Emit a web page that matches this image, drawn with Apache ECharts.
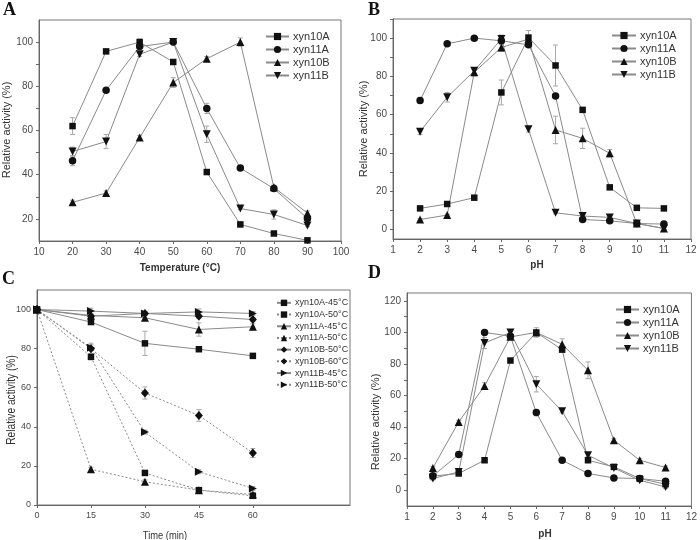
<!DOCTYPE html>
<html><head><meta charset="utf-8">
<script src="https://cdn.jsdelivr.net/npm/echarts@6/dist/echarts.min.js"></script>
<style>html,body{margin:0;padding:0;background:#fff}#c{width:700px;height:540px}</style>
</head><body><div id="c"></div>
<script>
// ---------- Panel A: temperature profile ----------
const tempX = [20, 30, 40, 50, 60, 70, 80, 90];
const A_xyn10A = [62, 95.8, 100, 91, 41.2, 17.5, 13.4, 10.3];
const A_xyn11A = [46.3, 78.2, 98, 100, 70, 43, 33.7, 20.2];
const A_xyn10B = [27.5, 31.7, 56.8, 81.7, 92.5, 100, 34.3, 22.6];
const A_xyn11B = [50.5, 55, 94.5, 100, 58.3, 24.7, 22, 17];
const A_err10A = [3.8, 0.5, 1.5, 0.5, 0.5, 1, 0.5, 0];
const A_err11A = [2.2, 1, 1, 0.5, 2.3, 0.5, 1, 1];
const A_err10B = [1, 1, 1, 2.2, 1, 1.9, 1, 1];
const A_err11B = [2, 3.2, 1, 0.5, 3.7, 0.5, 2.1, 0.5];
const A_xTicks = [10, 20, 30, 40, 50, 60, 70, 80, 90, 100];
const A_yTicks = [20, 40, 60, 80, 100];

// ---------- Panel B: pH profile ----------
const phX = [2, 3, 4, 5, 6, 7, 8, 9, 10, 11];
const B_xyn10A = [11, 13.3, 16.6, 71.6, 100.3, 85.7, 62.5, 22, 11.3, 11];
const B_xyn11A = [67.4, 97, 100, 98.6, 96.5, 69.8, 5.2, 4.5, 3.1, 2.8];
const B_xyn10B = [5.2, 7.5, 82.2, 95.1, 99.5, 52, 47.6, 39.8, 3.1, 0.5];
const B_xyn11B = [51.1, 69.1, 82.9, 99.6, 52.4, 8.7, 7, 6.3, 3.1, 0.5];
const B_err10A = [0.5, 0.5, 0.5, 6.5, 3.7, 10.7, 0.5, 1, 0.5, 0.5];
const B_err11A = [1.5, 0.5, 0.5, 2, 1, 0.5, 0.5, 0.5, 0.5, 0.5];
const B_err10B = [0.5, 0.5, 2, 2, 1, 7.2, 5.3, 2, 0.5, 0.5];
const B_err11B = [1.5, 2.5, 1.5, 2, 1.5, 0.5, 0.5, 1, 0.5, 0.5];
const pH_xTicks = [1, 2, 3, 4, 5, 6, 7, 8, 9, 10, 11, 12];
const B_yTicks = [0, 20, 40, 60, 80, 100];

// ---------- Panel C: thermostability ----------
const timeX = [0, 15, 30, 45, 60];
const C_10A45 = [100, 93.6, 82.7, 79.7, 76.3];
const C_10A50 = [100, 75.8, 16.4, 7.6, 4.7];
const C_11A45 = [100, 97, 95.8, 89.8, 91.2];
const C_11A50 = [100, 18.3, 11.9, 7.6, 5.4];
const C_10B50 = [100, 96.6, 98, 96.6, 94.9];
const C_10B60 = [100, 80, 57.3, 45.8, 26.6];
const C_11B45 = [100, 99.2, 98, 98.8, 98];
const C_11B50 = [100, 80.5, 37.3, 17, 8.5];
const C_e10A45 = [0, 1, 6.2, 1, 1];
const C_e10A50 = [0, 1.5, 1, 1, 1];
const C_e11A45 = [0, 1, 1.5, 3.4, 1.5];
const C_e11A50 = [0, 1, 1, 1, 1];
const C_e10B50 = [0, 1, 1, 1, 1];
const C_e10B60 = [0, 2.8, 3.1, 3, 2.3];
const C_e11B45 = [0, 1.5, 1, 1.5, 1];
const C_e11B50 = [0, 1.5, 1, 1, 1];
const C_xTicks = [0, 15, 30, 45, 60];
const C_yTicks = [0, 20, 40, 60, 80, 100];

// ---------- Panel D: pH stability ----------
const D_xyn10A = [8.9, 10.6, 19, 82.2, 100, 89.1, 19, 14.8, 7.4, 3.8];
const D_xyn11A = [9.1, 22.6, 100, 97.6, 49.2, 19, 10.6, 7.8, 7.4, 5.7];
const D_xyn10B = [14.1, 43.3, 66.1, 97.2, 100, 92.5, 76, 31.7, 19, 14.4];
const D_xyn11B = [7.4, 11.6, 93.3, 100, 67.2, 50, 22.2, 14.1, 6.3, 2.1];
const D_err10A = [1, 1, 1, 1, 3, 1, 1, 1, 1, 1];
const D_err11A = [1, 1, 1, 1, 2, 1, 1, 1, 1, 1];
const D_err10B = [1, 1, 2, 1, 1, 3.5, 5.3, 1, 1, 1];
const D_err11B = [1, 1, 3.5, 1, 4.9, 1, 1, 1, 1, 1];
const D_yTicks = [0, 20, 40, 60, 80, 100, 120];

// ---------- helpers ----------
const SANS = "'Liberation Sans', Arial, sans-serif";
const SERIF = "'Liberation Serif', 'Times New Roman', serif";
const AXC = '#666';
const LINEC = '#8a8a8a';
const MARKC = '#111';
const ERRC = '#a8a8a8';

function range(a, b, s) { const r = []; for (let v = a; v <= b + 1e-9; v += s) r.push(v); return r; }
function pairs(xs, ys) { return xs.map((x, i) => [x, ys[i]]); }
function triples(xs, ys, es) { return xs.map((x, i) => [x, ys[i], es[i]]); }

const SYM = {
  sq: { symbol: 'rect', size: 6.5, rotate: 0 },
  ci: { symbol: 'circle', size: 7.5, rotate: 0 },
  up: { symbol: 'triangle', size: 8, rotate: 0 },
  dn: { symbol: 'triangle', size: 8, rotate: 180 },
  di: { symbol: 'diamond', size: [8, 9], rotate: 0 },
  rt: { symbol: 'triangle', size: 8, rotate: -90 }
};

function lineSeries(gi, name, xs, ys, sym, dotted) {
  const s = SYM[sym];
  return {
    type: 'line', name, xAxisIndex: gi, yAxisIndex: gi,
    data: pairs(xs, ys),
    symbol: s.symbol, symbolSize: s.size, symbolRotate: s.rotate, showSymbol: true,
    lineStyle: { color: LINEC, width: 1, type: dotted ? [2, 2] : 'solid' },
    itemStyle: { color: MARKC },
    z: 3, animation: false
  };
}
function errSeries(gi, xs, ys, es) {
  return {
    type: 'custom', xAxisIndex: gi, yAxisIndex: gi, silent: true, z: 1,
    data: triples(xs, ys, es), encode: { x: 0, y: 1 },
    renderItem: function (p, api) {
      const x = api.value(0), y = api.value(1), e = api.value(2);
      if (!e) return null;
      const hi = api.coord([x, y + e]), lo = api.coord([x, y - e]);
      const w = 2.5, st = { stroke: ERRC, lineWidth: 1 };
      return { type: 'group', children: [
        { type: 'line', shape: { x1: hi[0], y1: hi[1], x2: lo[0], y2: lo[1] }, style: st },
        { type: 'line', shape: { x1: hi[0] - w, y1: hi[1], x2: hi[0] + w, y2: hi[1] }, style: st },
        { type: 'line', shape: { x1: lo[0] - w, y1: lo[1], x2: lo[0] + w, y2: lo[1] }, style: st }
      ]};
    },
    animation: false
  };
}
function axis(gi, min, max, tickVals, labelVals, fs) {
  return {
    gridIndex: gi, type: 'value', min, max,
    axisLine: { show: true, onZero: false, lineStyle: { color: AXC, width: 1 } },
    axisTick: { show: true, inside: false, length: 3, customValues: tickVals, lineStyle: { color: AXC } },
    splitLine: { show: false },
    axisLabel: { customValues: labelVals, color: '#4a4a4a', fontSize: fs || 10, fontFamily: SANS, margin: 6,
                 showMinLabel: true, showMaxLabel: true }
  };
}

const grids = [
  { left: 39, top: 20, width: 302, height: 221 },
  { left: 393, top: 19, width: 298, height: 220 },
  { left: 37, top: 290, width: 313, height: 215 },
  { left: 407, top: 293, width: 288, height: 213 }
].map(g => Object.assign({ show: true, borderColor: '#777', borderWidth: 1, backgroundColor: 'transparent' }, g));

const xAxes = [
  axis(0, 10, 100, A_xTicks, A_xTicks),
  axis(1, 1, 12, pH_xTicks, pH_xTicks),
  axis(2, 0, 87, C_xTicks, C_xTicks, 9),
  axis(3, 1, 12, pH_xTicks, pH_xTicks)
];
const yAxes = [
  axis(0, 10, 110, range(20, 100, 10), A_yTicks),
  axis(1, -5, 110, range(0, 110, 10), B_yTicks),
  axis(2, 0, 110, C_yTicks, C_yTicks, 9),
  axis(3, -10, 125, range(0, 120, 10), D_yTicks)
];

const series = [
  errSeries(0, tempX, A_xyn10A, A_err10A), errSeries(0, tempX, A_xyn11A, A_err11A),
  errSeries(0, tempX, A_xyn10B, A_err10B), errSeries(0, tempX, A_xyn11B, A_err11B),
  lineSeries(0, 'xyn10A', tempX, A_xyn10A, 'sq'),
  lineSeries(0, 'xyn11A', tempX, A_xyn11A, 'ci'),
  lineSeries(0, 'xyn10B', tempX, A_xyn10B, 'up'),
  lineSeries(0, 'xyn11B', tempX, A_xyn11B, 'dn'),

  errSeries(1, phX, B_xyn10A, B_err10A), errSeries(1, phX, B_xyn11A, B_err11A),
  errSeries(1, phX, B_xyn10B, B_err10B), errSeries(1, phX, B_xyn11B, B_err11B),
  lineSeries(1, 'xyn10A', phX, B_xyn10A, 'sq'),
  lineSeries(1, 'xyn11A', phX, B_xyn11A, 'ci'),
  lineSeries(1, 'xyn10B', phX, B_xyn10B, 'up'),
  lineSeries(1, 'xyn11B', phX, B_xyn11B, 'dn'),

  errSeries(2, timeX, C_10A45, C_e10A45), errSeries(2, timeX, C_10A50, C_e10A50),
  errSeries(2, timeX, C_11A45, C_e11A45), errSeries(2, timeX, C_11A50, C_e11A50),
  errSeries(2, timeX, C_10B50, C_e10B50), errSeries(2, timeX, C_10B60, C_e10B60),
  errSeries(2, timeX, C_11B45, C_e11B45), errSeries(2, timeX, C_11B50, C_e11B50),
  lineSeries(2, 'xyn10A-45°C', timeX, C_10A45, 'sq'),
  lineSeries(2, 'xyn10A-50°C', timeX, C_10A50, 'sq', true),
  lineSeries(2, 'xyn11A-45°C', timeX, C_11A45, 'up'),
  lineSeries(2, 'xyn11A-50°C', timeX, C_11A50, 'up', true),
  lineSeries(2, 'xyn10B-50°C', timeX, C_10B50, 'di'),
  lineSeries(2, 'xyn10B-60°C', timeX, C_10B60, 'di', true),
  lineSeries(2, 'xyn11B-45°C', timeX, C_11B45, 'rt'),
  lineSeries(2, 'xyn11B-50°C', timeX, C_11B50, 'rt', true),

  errSeries(3, phX, D_xyn10A, D_err10A), errSeries(3, phX, D_xyn11A, D_err11A),
  errSeries(3, phX, D_xyn10B, D_err10B), errSeries(3, phX, D_xyn11B, D_err11B),
  lineSeries(3, 'xyn10A', phX, D_xyn10A, 'sq'),
  lineSeries(3, 'xyn11A', phX, D_xyn11A, 'ci'),
  lineSeries(3, 'xyn10B', phX, D_xyn10B, 'up'),
  lineSeries(3, 'xyn11B', phX, D_xyn11B, 'dn')
];

const names4 = ['xyn10A', 'xyn11A', 'xyn10B', 'xyn11B'];
const namesC = ['xyn10A-45°C', 'xyn10A-50°C', 'xyn11A-45°C', 'xyn11A-50°C',
                'xyn10B-50°C', 'xyn10B-60°C', 'xyn11B-45°C', 'xyn11B-50°C'];
function legend(data, left, top, w, h, fs, lh) {
  return {
    data, left, top, orient: 'vertical', itemWidth: w, itemHeight: h, itemGap: 0,
    padding: 0, selectedMode: false,
    textStyle: { color: '#333', fontSize: fs, lineHeight: lh, fontFamily: SANS, padding: [0, 0, 0, -1] }
  };
}

function txt(text, x, y, font, opts) {
  return Object.assign({ type: 'text', x, y, silent: true,
    style: { text, font, fill: '#333', align: 'center', verticalAlign: 'middle' } }, opts || {});
}
const TITLE = "11px " + SANS;
const LETTER = "bold 18px " + SERIF;
const graphic = [
  { type: 'text', x: 3, y: 1, style: { text: 'A', font: LETTER, fill: '#111', verticalAlign: 'top' } },
  { type: 'text', x: 368, y: 1, style: { text: 'B', font: LETTER, fill: '#111', verticalAlign: 'top' } },
  { type: 'text', x: 2, y: 270, style: { text: 'C', font: LETTER, fill: '#111', verticalAlign: 'top' } },
  { type: 'text', x: 368, y: 264, style: { text: 'D', font: LETTER, fill: '#111', verticalAlign: 'top' } },
  txt('Temperature (°C)', 180, 268, "bold 10px " + SANS),
  txt('pH', 537, 265, "bold 10px " + SANS),
  txt('Time (min)', 165, 536, "11px " + SANS, { scaleX: 0.85 }),
  txt('pH', 545, 534, "bold 10px " + SANS),
  txt('Relative activity (%)', 7, 130, TITLE, { rotation: Math.PI / 2 }),
  txt('Relative activity (%)', 364, 129, TITLE, { rotation: Math.PI / 2 }),
  txt('Relative activity (%)', 12, 400, "12px " + SANS, { rotation: Math.PI / 2, scaleX: 0.85 }),
  txt('Relative activity (%)', 376, 422, TITLE, { rotation: Math.PI / 2 })
];

const chart = echarts.init(document.getElementById('c'), null, { renderer: 'canvas' });
chart.setOption({
  animation: false,
  backgroundColor: '#fff',
  grid: grids,
  xAxis: xAxes,
  yAxis: yAxes,
  legend: [
    legend(names4, 265, 30, 23, 9, 11, 13),
    legend(names4, 611, 29, 24, 9, 11, 13),
    legend(namesC, 276, 297, 14, 8, 9, 11.7),
    legend(names4, 615, 303, 23, 9, 11, 13)
  ],
  series,
  graphic
});
</script>
</body></html>
